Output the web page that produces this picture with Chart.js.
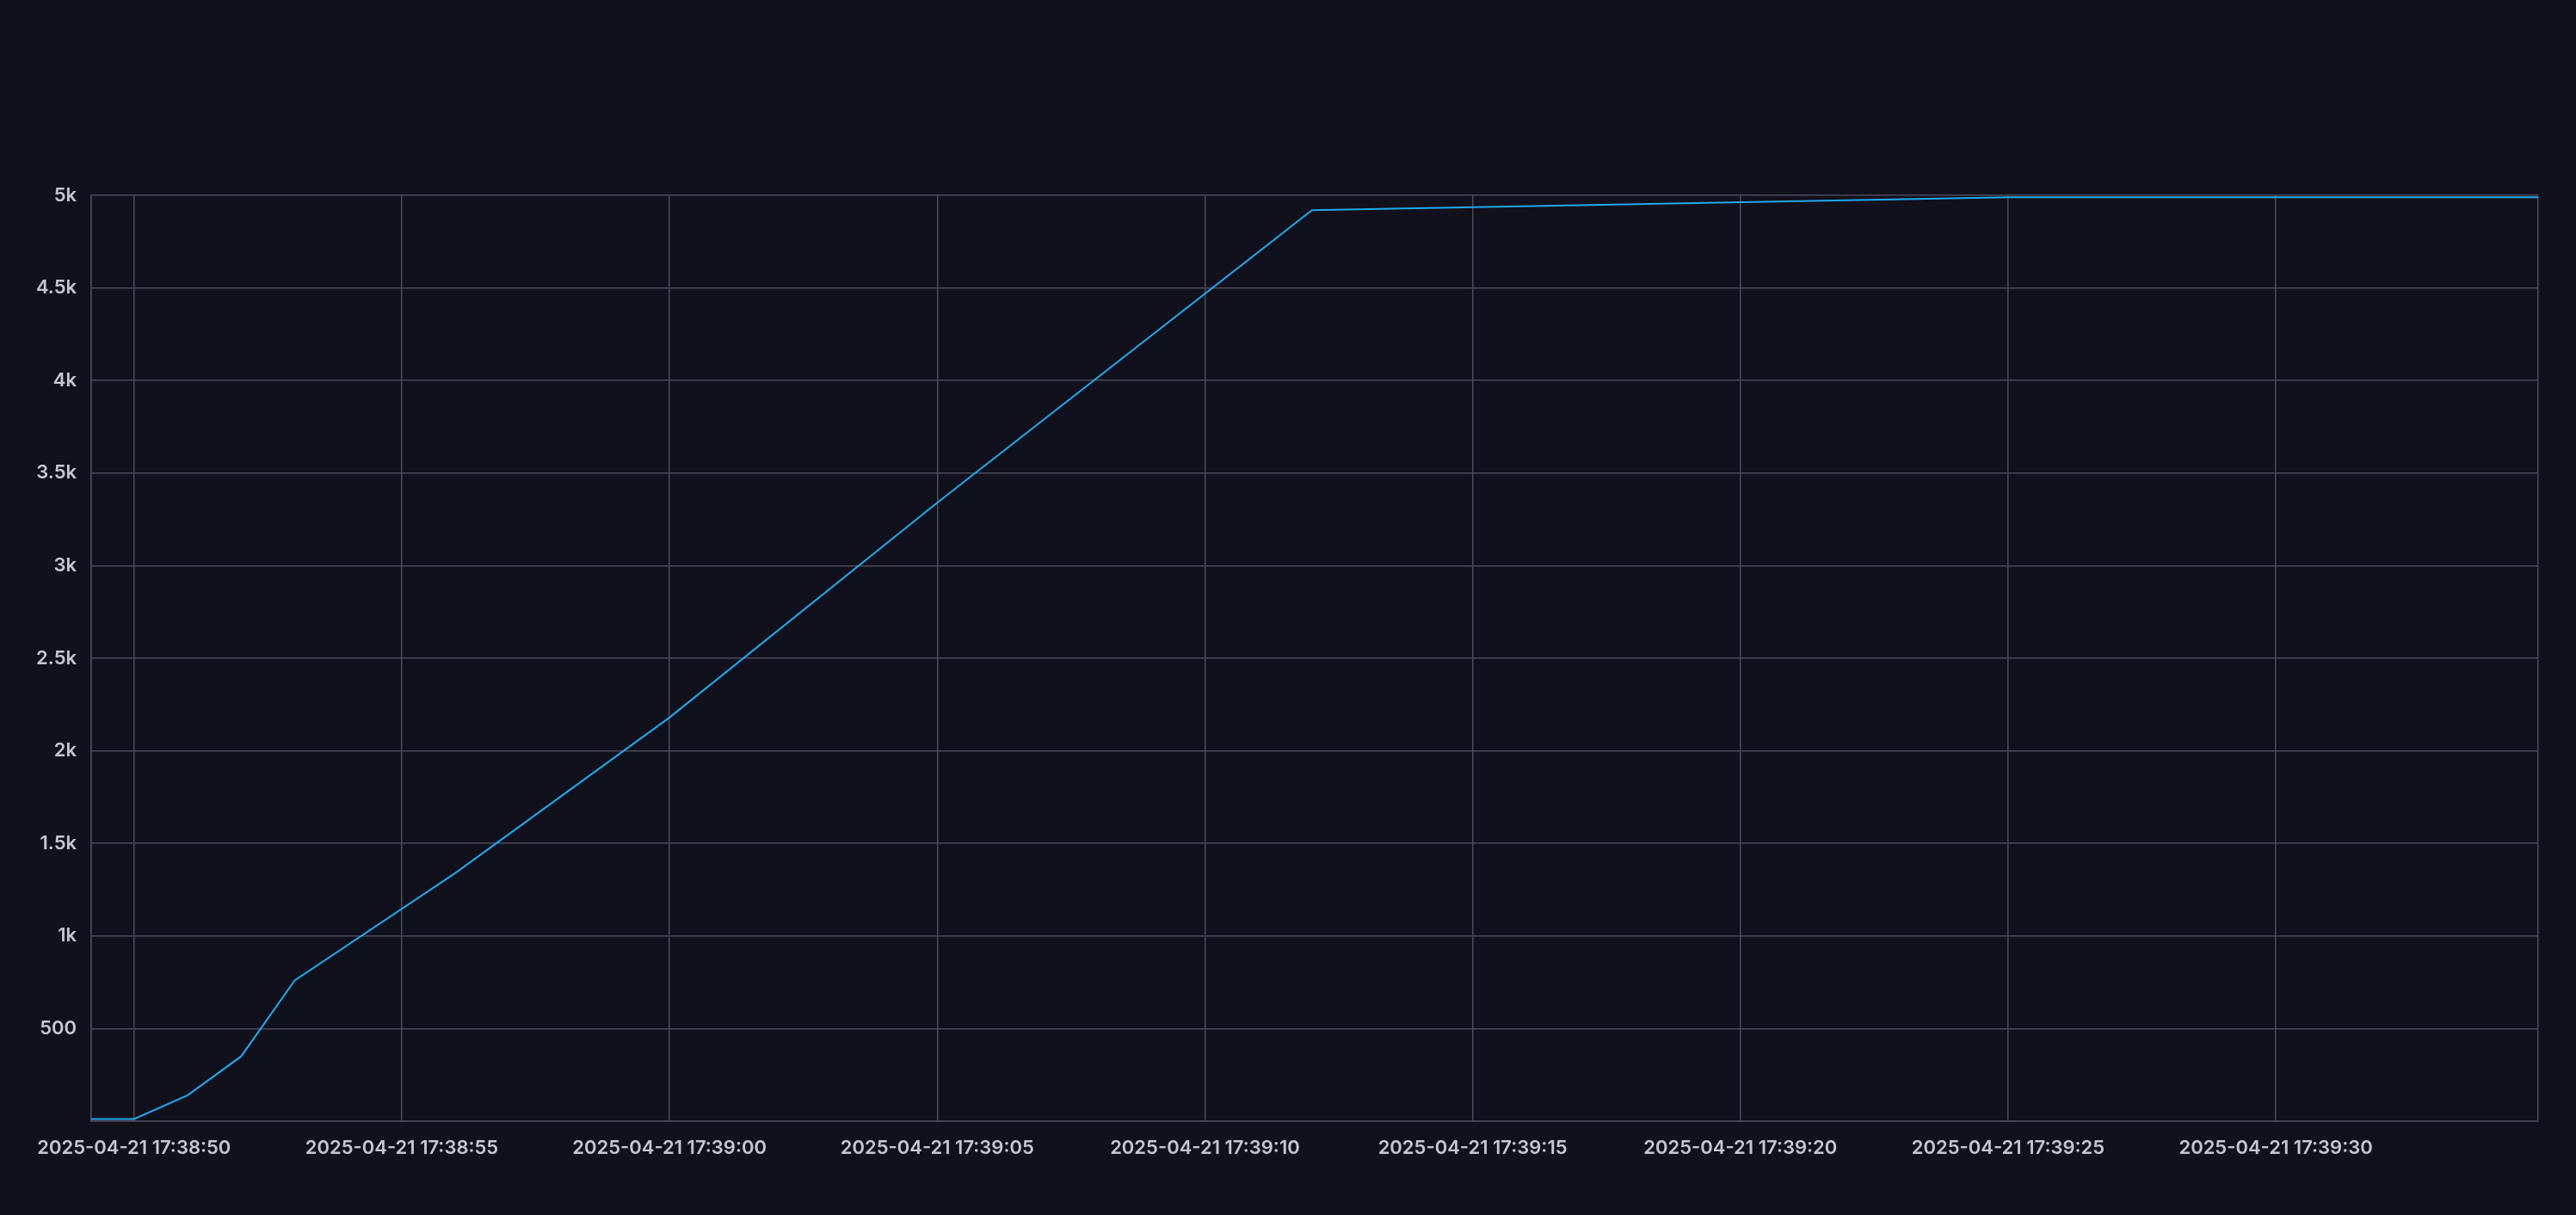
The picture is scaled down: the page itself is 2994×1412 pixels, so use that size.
<!DOCTYPE html>
<html lang="en">
<head>
    <meta charset="UTF-8">
    <title>Counter over time</title>
    <script src="https://cdn.jsdelivr.net/npm/chart.js"></script>
    <style>
        html, body {
            margin: 0;
            padding: 0;
            background-color: #11111d;
        }
        .chart-container {
            width: 100vw;
            height: 100vh;
            position: relative;
        }
    </style>
</head>
<body>

<div class="chart-container">
    <canvas id="line-chart"></canvas>
</div>

<script>
// values
const DAY = '2025-04-21';
const times = ['17:38:49.2', '17:38:50', '17:38:51', '17:38:52', '17:38:53', '17:38:56', '17:39:00', '17:39:05', '17:39:12', '17:39:25', '17:39:34.9'];
const values = [12, 12, 140, 350, 760, 1340, 2180, 3340, 4920, 4990, 4990];
const yTicks = [0, 500, 1000, 1500, 2000, 2500, 3000, 3500, 4000, 4500, 5000];

// seconds since 17:00:00, so the x scale can stay linear (no date adapter)
function toSec(t) {
    const p = t.split(':');
    return (+p[0] - 17) * 3600 + (+p[1]) * 60 + parseFloat(p[2]);
}
function pad(n) {
    return String(n).padStart(2, '0');
}
function fmtTime(s) {
    const h = 17 + Math.floor(s / 3600);
    const m = Math.floor((s % 3600) / 60);
    const sec = Math.round(s % 60);
    return DAY + ' ' + pad(h) + ':' + pad(m) + ':' + pad(sec);
}

document.addEventListener("DOMContentLoaded", function() {
    const gridColor = '#4c4a5b';
    const textColor = '#c6c5d2';
    const points = times.map((t, i) => ({ x: toSec(t), y: values[i] }));
    const xMin = points[0].x;
    const xMax = points[points.length - 1].x;

    new Chart(document.getElementById('line-chart'), {
        type: 'line',
        data: {
            datasets: [{
                data: points,
                borderColor: '#22a9ec',
                borderWidth: 2,
                pointRadius: 0,
                tension: 0,
                fill: false
            }]
        },
        options: {
            responsive: true,
            maintainAspectRatio: false,
            animation: false,
            layout: {
                padding: { top: 227, right: 44, left: 0, bottom: 0 }
            },
            plugins: {
                legend: { display: false },
                tooltip: { enabled: false }
            },
            scales: {
                x: {
                    type: 'linear',
                    min: xMin,
                    max: xMax,
                    afterBuildTicks: (scale) => {
                        const ticks = [{ value: xMin }];
                        for (let v = Math.ceil(xMin / 5) * 5; v < xMax; v += 5) ticks.push({ value: v });
                        ticks.push({ value: xMax });
                        scale.ticks = ticks;
                    },
                    afterFit: (scale) => { scale.height = 109; },
                    grid: { color: gridColor, lineWidth: 1.5, drawTicks: false },
                    border: { color: gridColor, width: 1.5 },
                    ticks: {
                        autoSkip: false,
                        maxRotation: 0,
                        padding: 18,
                        color: textColor,
                        font: { family: 'Inter', size: 22, weight: 600 },
                        callback: (v) => (Math.abs(v / 5 - Math.round(v / 5)) < 1e-6 ? fmtTime(v) : '')
                    }
                },
                y: {
                    min: yTicks[0],
                    max: yTicks[yTicks.length - 1],
                    afterBuildTicks: (scale) => {
                        scale.ticks = yTicks.map(v => ({ value: v }));
                    },
                    afterFit: (scale) => { scale.width = 106; },
                    grid: { color: gridColor, lineWidth: 1.5, drawTicks: false },
                    border: { color: gridColor, width: 1.5 },
                    ticks: {
                        padding: 17,
                        color: textColor,
                        font: { family: 'Inter', size: 22, weight: 600 },
                        callback: (v) => v === 0 ? '' : (v >= 1000 ? (v / 1000) + 'k' : v)
                    }
                }
            }
        }
    });
});
</script>
</body>
</html>
